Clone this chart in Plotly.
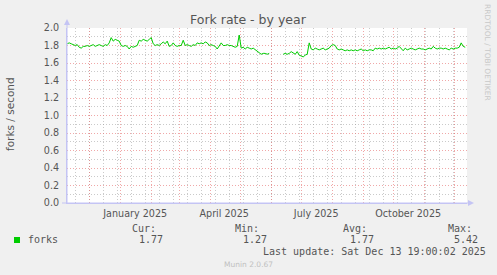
import pandas as pd
import plotly.graph_objects as go

# ---- data (2-day samples) ----
start = "2024-11-09"
step_days = 2
forks = [
    1.82, 1.83, 1.82, 1.81, 1.80, 1.81, 1.78, 1.77, 1.79,
    1.79, 1.80, 1.79, 1.80, 1.81, 1.79,
    1.80, 1.81, 1.80, 1.79, 1.81, 1.80,
    1.83, 1.89, 1.85, 1.87, 1.86, 1.85,
    1.80, 1.79, 1.80, 1.79, 1.76,
    1.79, 1.78, 1.79, 1.80,
    1.86, 1.85, 1.87, 1.86, 1.85, 1.87, 1.89,
    1.82, 1.80, 1.81, 1.80,
    1.82, 1.84, 1.82, 1.85, 1.79, 1.80, 1.83,
    1.80, 1.79, 1.80, 1.80, 1.86,
    1.80, 1.81, 1.80, 1.79, 1.81, 1.80,
    1.83, 1.82, 1.83, 1.82, 1.84, 1.83,
    1.80, 1.81, 1.80, 1.79, 1.76, 1.80, 1.83,
    1.80, 1.80, 1.81, 1.80, 1.80,
    1.79, 1.78, 1.79, 1.92,
    1.77, 1.78, 1.76, 1.78, 1.77, 1.76, 1.77, 1.75, 1.74,
    1.71, 1.70, 1.71, 1.71, 1.70, 1.71,
    None, None, None, None, None, None,
    1.70, 1.71, 1.70, 1.71, 1.73, 1.71, 1.70, 1.73,
    1.69, 1.68, 1.67, 1.69, 1.70, 1.83,
    1.76, 1.75, 1.77, 1.76, 1.75, 1.76, 1.77, 1.75, 1.76, 1.77,
    1.80, 1.81, 1.80,
    1.76, 1.75, 1.76, 1.75, 1.74,
    1.75, 1.74, 1.75, 1.74, 1.75, 1.74, 1.75, 1.76, 1.74, 1.75, 1.74, 1.75, 1.75, 1.74,
    1.77, 1.76, 1.77, 1.76,
    1.77, 1.76, 1.77, 1.78, 1.76, 1.77, 1.76, 1.77, 1.79,
    1.76, 1.74, 1.77, 1.75,
    1.76, 1.77, 1.76, 1.75, 1.76, 1.77, 1.76, 1.76, 1.75, 1.76, 1.77, 1.76, 1.79,
    1.77, 1.76, 1.77, 1.77, 1.76, 1.77, 1.76,
    1.75, 1.77, 1.76, 1.77, 1.77, 1.78, 1.83, 1.79, 1.78,
]
dates = pd.date_range(start, periods=len(forks), freq=f"{step_days}D")

x_range = ["2024-11-08 19:00", "2025-12-13 19:00"]
month_lines = pd.date_range("2024-12-01", "2025-12-01", freq="MS")
label_pos = ["2025-01-16", "2025-04-15", "2025-07-16", "2025-10-16"]
label_text = ["January 2025", "April 2025", "July 2025", "October 2025"]

title = "Fork rate - by year"
y_title = "forks / second"
legend_name = "forks"
stats_heads = ["Cur:", "Min:", "Avg:", "Max:"]
stats_vals = ["1.77", "1.27", "1.77", "5.42"]
last_update = "Last update: Sat Dec 13 19:00:02 2025"
footer = "Munin 2.0.67"
watermark = "RRDTOOL / TOBI OETIKER"

# ---- layout geometry ----
W, H = 497, 275
L, R, T, B = 67, 30, 28, 72
PW, PH = W - L - R, H - T - B

def px(x):
    return (x - L) / PW

def py(y):
    return (H - B - y) / PH

RED = "rgba(230,110,110,0.6)"
GREY = "rgba(150,150,150,0.5)"
AXIS = "#c4c4f4"
TXT = "#555555"
MONO = "DejaVu Sans Mono"
SANS = "DejaVu Sans"

fig = go.Figure()
fig.add_trace(go.Scatter(x=dates, y=forks, mode="lines",
                         line=dict(color="#00cc00", width=1),
                         connectgaps=False, showlegend=False, hoverinfo="skip"))
fig.add_trace(go.Scatter(x=dates, y=forks, mode="lines", xaxis="x2",
                         line=dict(color="rgba(0,0,0,0)", width=0),
                         showlegend=False, hoverinfo="skip"))

fig.update_layout(
    width=W, height=H,
    margin=dict(l=L, r=R, t=T, b=B, pad=0),
    paper_bgcolor="#f0f0f0", plot_bgcolor="#ffffff",
    font=dict(family=SANS, size=10, color=TXT),
    xaxis=dict(type="date", range=x_range, tickmode="array",
               tickvals=list(month_lines), ticktext=[""] * len(month_lines),
               ticks="", showticklabels=False,
               showgrid=True, gridcolor=RED, griddash="1px,2px", gridwidth=1,
               minor=dict(tickmode="linear", tick0="2024-11-17", dtick=14 * 86400000,
                          showgrid=True, gridcolor=GREY, griddash="1px,2px", gridwidth=1),
               showline=True, linecolor=AXIS, linewidth=1, zeroline=False, fixedrange=True),
    xaxis2=dict(type="date", range=x_range, overlaying="x", anchor="y", side="bottom",
                tickmode="array", tickvals=label_pos, ticktext=label_text,
                ticks="", showgrid=False, showline=False, zeroline=False,
                ticklabelstandoff=3,
                tickfont=dict(family=SANS, size=9.6, color=TXT)),
    yaxis=dict(range=[0, 2.0], tickmode="linear", tick0=0, dtick=0.2, tickformat=".1f",
               ticks="", ticklabelstandoff=5,
               tickfont=dict(family=SANS, size=9.6, color=TXT),
               showgrid=True, gridcolor=RED, griddash="1px,2px", gridwidth=1,
               minor=dict(dtick=0.1, showgrid=True, gridcolor=GREY, griddash="1px,2px", gridwidth=1),
               showline=True, linecolor=AXIS, linewidth=1, zeroline=False, fixedrange=True),
)

# axis arrowheads
fig.add_shape(type="line", xref="paper", yref="paper", x0=px(62), x1=px(471), y0=0, y1=0,
              line=dict(color=AXIS, width=1))
fig.add_shape(type="line", xref="paper", yref="paper", x0=0, x1=0, y0=0, y1=py(22),
              line=dict(color=AXIS, width=1))
fig.add_shape(type="path", xref="paper", yref="paper",
              path=f"M {px(468)} {py(200)} L {px(474)} {py(203)} L {px(468)} {py(206)} Z",
              fillcolor=AXIS, line=dict(width=0))
fig.add_shape(type="path", xref="paper", yref="paper",
              path=f"M {px(64)} {py(25)} L {px(67)} {py(19)} L {px(70)} {py(25)} Z",
              fillcolor=AXIS, line=dict(width=0))

ann = []
ann.append(dict(text=title, x=px(248), y=py(19), font=dict(family=SANS, size=12.5, color="#555555"),
                xanchor="center", yanchor="middle"))
ann.append(dict(text=y_title, x=px(10), y=py(114), textangle=-90,
                font=dict(family=SANS, size=10.5, color=TXT), xanchor="center", yanchor="middle"))
ann.append(dict(text=watermark, x=px(488), y=py(52), textangle=90,
                font=dict(family=SANS, size=7.5, color="#c8c8c8"), xanchor="center", yanchor="middle"))
ann.append(dict(text=legend_name, x=px(26.5), y=py(239.3), font=dict(family=MONO, size=10, color=TXT),
                xanchor="left", yanchor="middle"))
head_left = [131, 234, 341.7, 447.3]
val_left = [137.7, 242, 349, 453]
for h, v, hx, vx in zip(stats_heads, stats_vals, head_left, val_left):
    ann.append(dict(text=h, x=px(hx), y=py(228.3), font=dict(family=MONO, size=10, color=TXT),
                    xanchor="left", yanchor="middle"))
    ann.append(dict(text=v, x=px(vx), y=py(239.3), font=dict(family=MONO, size=10, color=TXT),
                    xanchor="left", yanchor="middle"))
ann.append(dict(text=last_update, x=px(261.7), y=py(251), font=dict(family=MONO, size=10, color=TXT),
                xanchor="left", yanchor="middle"))
ann.append(dict(text=footer, x=px(248), y=py(264.3), font=dict(family=SANS, size=7.5, color="#c0c0c0"),
                xanchor="center", yanchor="middle"))
for a in ann:
    a.update(xref="paper", yref="paper", showarrow=False, borderpad=0)
fig.update_layout(annotations=ann)

fig.add_shape(type="rect", xref="paper", yref="paper", x0=px(14), x1=px(20), y0=py(243), y1=py(237),
              fillcolor="#00cc00", line=dict(width=0))

fig.write_html("out.html")
